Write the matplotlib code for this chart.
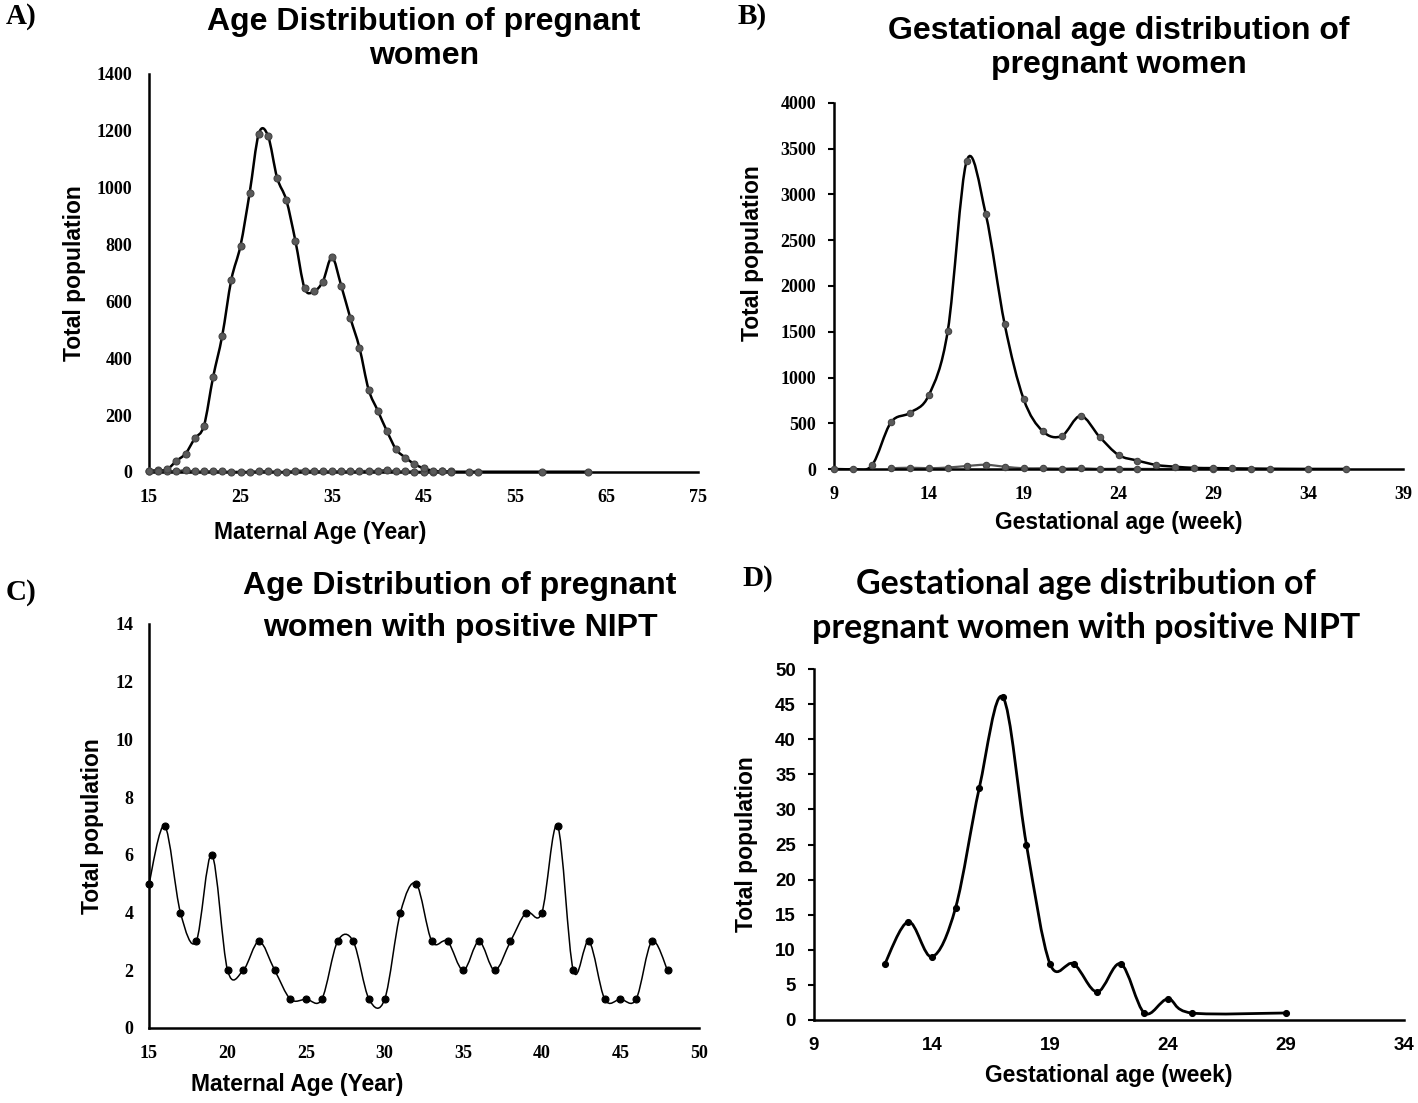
import numpy as np
import matplotlib
matplotlib.use("Agg")
from matplotlib import pyplot as plt
from matplotlib.path import Path
from matplotlib.patches import PathPatch

SANS = "Liberation Sans"
SERIF = "Liberation Serif"

# A) age distribution of all pregnant women
age_a = list(range(15, 49)) + [50, 51, 58, 63]
pop_a = [2, 4, 10, 39, 65, 118, 162, 333, 479, 677, 796, 982, 1190, 1183, 1035,
         957, 813, 647, 635, 670, 755, 656, 542, 437, 290, 216, 144, 80, 51, 28,
         13, 5, 2, 1, 1, 1, 1, 1]

# C) age distribution of women with positive NIPT (also drawn in A)
age_c = list(range(15, 49))
pos_c = [5, 7, 4, 3, 6, 2, 2, 3, 2, 1, 1, 1, 3, 3, 1, 1, 4, 5, 3, 3, 2, 3, 2, 3,
         4, 4, 7, 2, 3, 1, 1, 1, 3, 2]

# B) gestational age of all pregnant women
week_b = list(range(9, 33)) + [34, 36]
pop_b = [0, 0, 40, 509, 614, 807, 1512, 3370, 2787, 1580, 763, 414, 360, 581,
         352, 153, 92, 44, 25, 12, 10, 7, 5, 3, 1, 1]

# D) gestational age of women with positive NIPT (also drawn in B)
week_d = list(range(12, 26)) + [29]
pos_d = [8, 14, 9, 16, 33, 46, 25, 8, 8, 4, 8, 1, 3, 1, 1]

xt_a = [15, 25, 35, 45, 55, 65, 75]
yt_a = list(range(0, 1401, 200))
xt_b = [9, 14, 19, 24, 29, 34, 39]
yt_b = list(range(0, 4001, 500))
xt_c = list(range(15, 51, 5))
yt_c = list(range(0, 15, 2))
xt_d = [9, 14, 19, 24, 29, 34]
yt_d = list(range(0, 51, 5))

W, H = 1418, 1103
fig = plt.figure(figsize=(W / 100, H / 100), dpi=100)


def rect(x0, x1, ytop, ybot):
    return [x0 / W, 1 - ybot / H, (x1 - x0) / W, (ybot - ytop) / H]


def smooth(x, y):
    # excel style smoothed line: bezier through the points
    p = np.column_stack([x, y]).astype(float)
    n = len(p)
    verts = [p[0]]
    codes = [Path.MOVETO]
    for i in range(n - 1):
        p0 = p[i - 1] if i > 0 else p[i]
        p3 = p[i + 2] if i + 2 < n else p[i + 1]
        c1 = p[i] + (p[i + 1] - p0) / 6
        c2 = p[i + 1] - (p3 - p[i]) / 6
        verts += [c1, c2, p[i + 1]]
        codes += [Path.CURVE4] * 3
    return Path(verts, codes)


def style(ax, xt, yt, xlim, ylim, tickfont, fs, xpad, ypad, ylen):
    for s in ["top", "right"]:
        ax.spines[s].set_visible(False)
    for s in ["left", "bottom"]:
        ax.spines[s].set_linewidth(1.8)
    ax.set_xlim(xlim)
    ax.set_ylim(ylim)
    ax.set_xticks(xt)
    ax.set_xticklabels([str(v) for v in xt], fontfamily=tickfont,
                       fontweight="bold", fontsize=fs)
    ax.set_yticks(yt)
    ax.set_yticklabels([str(v) for v in yt], fontfamily=tickfont,
                       fontweight="bold", fontsize=fs)
    ax.tick_params(axis="x", length=0, pad=xpad)
    ax.tick_params(axis="y", length=ylen, width=1.5, pad=ypad)


def labels(ax, xl, yl, xpos, ypos):
    ax.set_xlabel(xl, fontfamily=SANS, fontweight="bold", fontsize=16.5, va="center")
    ax.xaxis.set_label_coords(*xpos)
    ax.set_ylabel(yl, fontfamily=SANS, fontweight="bold", fontsize=16.5, va="center")
    ax.yaxis.set_label_coords(*ypos)


def draw(ax, x, y, lw, color, ms, mfc, mec):
    ax.add_patch(PathPatch(smooth(x, y), fill=False, lw=lw, ec=color,
                           joinstyle="round", capstyle="round"))
    ax.plot(x, y, "o", ms=ms, mfc=mfc, mec=mec, mew=0.8, clip_on=False, zorder=3)


# A
ax = fig.add_axes(rect(149, 698, 74, 472))
draw(ax, age_c, pos_c, 1.6, "#333333", 5.0, "#5a5a5a", "#444444")
draw(ax, age_a, pop_a, 1.8, "black", 5.0, "#5a5a5a", "#444444")
style(ax, xt_a, yt_a, (15, 75), (0, 1400), SERIF, 13, 12, 12, 0)
labels(ax, "Maternal Age (Year)", "Total population", (0.311, -0.153), (-0.135, 0.5))

# B
ax = fig.add_axes(rect(834, 1403, 103, 469))
draw(ax, week_d, pos_d, 1.6, "#555555", 4.6, "#5a5a5a", "#444444")
draw(ax, week_b, pop_b, 1.8, "black", 4.6, "#5a5a5a", "#444444")
style(ax, xt_b, yt_b, (9, 39), (0, 4000), SERIF, 13, 12, 9, 4)
labels(ax, "Gestational age (week)", "Total population", (0.5, -0.145), (-0.144, 0.59))

# C
ax = fig.add_axes(rect(149, 699, 624, 1028))
draw(ax, age_c, pos_c, 1.1, "black", 5.0, "black", "black")
style(ax, xt_c, yt_c, (15, 50), (0, 14), SERIF, 13, 12, 11, 0)
labels(ax, "Maternal Age (Year)", "Total population", (0.269, -0.141), (-0.103, 0.5))

# D
ax = fig.add_axes(rect(814, 1404, 669, 1020))
draw(ax, week_d, pos_d, 2.0, "black", 4.3, "black", "black")
style(ax, xt_d, yt_d, (9, 34), (0, 50), SANS, 13.5, 12, 9, 4)
labels(ax, "Gestational age (week)", "Total population", (0.5, -0.157), (-0.114, 0.5))

# titles and panel letters
fig.text(424 / W, 1 - 39 / H, "Age Distribution of pregnant\nwomen", ha="center",
         va="center", fontfamily=SANS, fontweight="bold", fontsize=23, linespacing=1.2)
fig.text(1119 / W, 1 - 48 / H, "Gestational age distribution of\npregnant women",
         ha="center", va="center", fontfamily=SANS, fontweight="bold", fontsize=23,
         linespacing=1.2)
fig.text(460 / W, 1 - 607 / H, "Age Distribution of pregnant\nwomen with positive NIPT",
         ha="center", va="center", fontfamily=SANS, fontweight="bold", fontsize=23,
         linespacing=1.55)
fig.text(1086 / W, 1 - 606 / H, "Gestational age distribution of\npregnant women with positive NIPT",
         ha="center", va="center", fontfamily="Lato", fontweight="bold", fontsize=24.5,
         linespacing=1.5)

for s, x, y in [("A)", 21, 17), ("B)", 752, 17), ("C)", 21, 592), ("D)", 758, 578)]:
    fig.text(x / W, 1 - y / H, s, ha="center", va="center", fontfamily=SERIF,
             fontweight="bold", fontsize=21)

fig.savefig("out.png", dpi=100, facecolor="white")
